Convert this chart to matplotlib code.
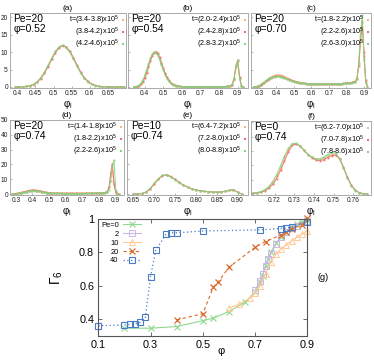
import matplotlib
matplotlib.use('Agg')
import matplotlib.pyplot as plt
from matplotlib.lines import Line2D
import numpy as np

plt.rcParams['font.family'] = ['Liberation Sans', 'DejaVu Sans']
plt.rcParams['mathtext.fontset'] = 'custom'
plt.rcParams['mathtext.rm'] = 'Liberation Sans'
plt.rcParams['mathtext.it'] = 'Liberation Sans:italic'

# ---------------- histogram panels (a)-(f) ----------------
xa = np.round(np.arange(0.395, 0.6951, 0.01), 3)
a1 = [0.0,0.03,0.07,0.16,0.36,0.75,1.45,2.55,4.1,6.0,8.1,10.0,11.4,11.9,11.4,10.1,8.2,6.1,4.1,2.6,1.5,0.8,0.4,0.17,0.07,0.03,0.01,0.0,0.0,0.0,0.0]
a2 = [0.0,0.02,0.06,0.14,0.32,0.68,1.35,2.4,3.9,5.8,7.9,9.8,11.2,11.8,11.5,10.3,8.4,6.3,4.3,2.7,1.6,0.85,0.42,0.19,0.08,0.04,0.02,0.01,0.01,0.0,0.0]
a3 = [0.0,0.03,0.08,0.18,0.4,0.8,1.55,2.7,4.3,6.2,8.3,10.2,11.5,12.0,11.3,9.9,8.0,5.9,3.9,2.45,1.4,0.74,0.36,0.15,0.06,0.02,0.01,0.0,0.0,0.0,0.0]

xb = np.round(np.arange(0.34, 0.9351, 0.01), 3)
flat_b = [0.12,0.1,0.1,0.1,0.1,0.1,0.1,0.1,0.1,0.1,0.1,0.1,0.1,0.1,0.1,0.1,0.1,0.1,0.1,0.1,0.1,0.1,0.1,0.12,0.15,0.2,0.3]
b1 = [0.0,0.05,0.15,0.4,0.9,1.7,2.9,4.4,6.1,7.8,9.1,9.9,10.0,9.4,8.2,6.7,5.1,3.7,2.6,1.7,1.1,0.7,0.45,0.3,0.2,0.15] + flat_b + [0.6,2.0,5.5,7.3,2.5,0.3,0.0]
b2 = [0.0,0.04,0.12,0.33,0.8,1.5,2.6,4.1,5.8,7.5,8.9,9.8,10.1,9.6,8.5,7.0,5.4,3.9,2.8,1.9,1.2,0.75,0.48,0.32,0.22,0.16] + flat_b + [0.7,2.3,6.0,7.6,2.8,0.35,0.0]
b3 = [0.0,0.06,0.2,0.5,1.1,2.0,3.3,4.9,6.6,8.2,9.4,10.0,9.8,9.1,7.8,6.3,4.8,3.4,2.4,1.6,1.0,0.65,0.42,0.28,0.19,0.14] + flat_b + [0.8,2.6,6.2,7.7,2.2,0.25,0.0]

xc = np.round(np.arange(0.27, 0.9251, 0.01), 3)
c1 = [0.0,0.05,0.15,0.35,0.6,0.95,1.35,1.8,2.2,2.6,2.9,3.15,3.3,3.4,3.45,3.4,3.3,3.1,2.85,2.6,2.35,2.1,1.9,1.7,1.55,1.4,1.3,1.2,1.1,1.05,1.0,0.95,0.9,
      0.9,0.88,0.86,0.85,0.85,0.84,0.84,0.84,0.84,0.85,0.85,0.86,0.87,0.88,0.9,0.92,0.94,0.96,1.0,1.05,1.1,
      1.15,1.2,1.3,1.4,1.6,2.6,6.5,14.0,19.0,9.0,1.5,0.0]
c2 = [0.0,0.04,0.12,0.3,0.55,0.85,1.2,1.6,2.0,2.35,2.65,2.85,3.0,3.05,3.05,3.0,2.95,2.8,2.6,2.4,2.2,2.0,1.8,1.62,1.48,1.36,1.26,1.17,1.1,1.03,0.98,0.93,0.9,
      0.88,0.86,0.85,0.84,0.83,0.83,0.83,0.83,0.83,0.84,0.84,0.85,0.86,0.87,0.89,0.91,0.93,0.96,1.0,1.04,1.08,
      1.12,1.18,1.28,1.38,1.55,2.4,6.0,13.0,18.5,10.0,2.0,0.0]
c3 = [0.0,0.06,0.18,0.4,0.7,1.05,1.45,1.85,2.2,2.5,2.7,2.85,2.95,3.0,3.0,2.95,2.85,2.7,2.5,2.3,2.1,1.9,1.72,1.55,1.42,1.3,1.2,1.12,1.05,1.0,0.95,0.91,0.88,
      0.86,0.85,0.84,0.83,0.82,0.82,0.82,0.82,0.82,0.83,0.83,0.84,0.85,0.86,0.88,0.9,0.92,0.95,0.98,1.02,1.06,
      1.1,1.16,1.25,1.35,1.5,2.3,7.0,15.0,20.5,8.0,1.2,0.0]

xd = np.round(np.arange(0.28, 0.9251, 0.01), 3)
d1 = [0.0,0.1,0.3,0.5,0.7,1.0,1.3,1.6,1.9,2.2,2.5,2.7,2.8,2.8,2.7,2.5,2.3,2.0,1.7,1.45,1.2,1.0,0.85,0.75,0.65,0.6,0.55,0.5,
      0.5,0.48,0.47,0.46,0.45,0.45,0.45,0.45,0.45,0.45,0.45,0.45,0.45,0.45,0.45,0.46,0.47,0.48,0.5,0.5,0.52,0.55,0.58,0.6,0.65,
      0.7,0.8,0.95,1.2,1.8,4.5,12.0,19.0,8.0,1.5,0.2,0.0]
d2 = [0.0,0.08,0.25,0.42,0.6,0.85,1.1,1.4,1.7,1.95,2.2,2.4,2.5,2.5,2.4,2.25,2.05,1.8,1.55,1.3,1.1,0.92,0.78,0.68,0.6,0.55,0.5,0.47,
      0.45,0.44,0.43,0.42,0.42,0.42,0.42,0.42,0.42,0.42,0.42,0.42,0.42,0.42,0.42,0.43,0.44,0.45,0.47,0.48,0.5,0.52,0.55,0.58,0.62,
      0.68,0.78,0.92,1.15,1.7,4.8,14.0,20.5,6.5,1.2,0.15,0.0]
d3 = [0.0,0.07,0.2,0.35,0.5,0.72,0.95,1.2,1.45,1.7,1.9,2.05,2.15,2.2,2.15,2.0,1.82,1.6,1.4,1.2,1.02,0.86,0.74,0.64,0.57,0.52,0.48,0.45,
      0.43,0.42,0.41,0.4,0.4,0.4,0.4,0.4,0.4,0.4,0.4,0.4,0.4,0.4,0.4,0.41,0.42,0.43,0.45,0.46,0.48,0.5,0.53,0.56,0.6,
      0.66,0.75,0.9,1.1,1.6,3.0,9.0,19.0,23.0,3.0,0.3,0.0]

xe = np.round(np.arange(0.65, 0.9151, 0.01), 3)
e1 = [0.0,0.1,0.4,1.3,3.6,7.0,10.4,12.8,13.2,12.0,10.0,8.0,6.2,4.8,3.7,2.9,2.4,2.0,1.7,1.5,1.4,1.5,1.9,2.6,3.0,1.2,0.0]
e2 = [0.0,0.08,0.35,1.2,3.3,6.6,10.0,12.4,12.8,11.8,9.9,7.9,6.1,4.7,3.6,2.8,2.3,1.9,1.6,1.45,1.35,1.45,1.85,2.6,3.1,1.3,0.0]
e3 = [0.0,0.12,0.45,1.4,3.8,7.2,10.5,12.6,12.7,11.5,9.6,7.7,6.0,4.6,3.5,2.75,2.25,1.85,1.55,1.4,1.3,1.4,1.8,2.5,3.0,1.1,0.0]

xf = np.round(np.arange(0.709, 0.7671, 0.002), 3)
f1 = [0.6,1.0,1.6,2.8,4.8,8.0,12.5,18.5,25.0,31.0,34.8,35.2,33.5,30.5,27.8,25.8,24.5,24.2,25.0,26.5,27.6,27.5,24.5,18.5,11.5,6.0,2.6,1.0,0.4,0.1]
f2 = [0.5,0.8,1.3,2.3,4.0,6.8,10.8,16.5,23.0,29.5,34.0,35.0,33.6,30.6,27.6,25.3,23.8,23.3,24.0,25.5,26.9,27.2,24.8,19.0,12.0,6.4,2.8,1.1,0.4,0.1]
f3 = [0.7,1.1,1.8,3.1,5.3,8.8,13.5,19.8,26.5,32.0,35.3,35.5,33.6,30.4,27.6,25.8,24.8,24.7,25.8,27.6,28.9,28.6,25.0,18.5,11.2,5.8,2.5,0.9,0.3,0.1]

labels_a = ["t=(3.4-3.8)x10$^{5}$", "(3.8-4.2)x10$^{5}$", "(4.2-4.6)x10$^{5}$"]
labels_b = ["t=(2.0-2.4)x10$^{5}$", "(2.4-2.8)x10$^{5}$", "(2.8-3.2)x10$^{5}$"]
labels_c = ["t=(1.8-2.2)x10$^{5}$", "(2.2-2.6)x10$^{5}$", "(2.6-3.0)x10$^{5}$"]
labels_d = ["t=(1.4-1.8)x10$^{5}$", "(1.8-2.2)x10$^{5}$", "(2.2-2.6)x10$^{5}$"]
labels_e = ["t=(6.4-7.2)x10$^{5}$", "(7.2-8.0)x10$^{5}$", "(8.0-8.8)x10$^{5}$"]
labels_f = ["t=(6.2-7.0)x10$^{5}$", "(7.0-7.8)x10$^{5}$", "(7.8-8.6)x10$^{5}$"]

# ---------------- panel (g) ----------------
pe0_phi = [0.2,0.3,0.4,0.5,0.54,0.6,0.66,0.7,0.72,0.73,0.74,0.75,0.76,0.78,0.8,0.82,0.84,0.86,0.88,0.9]
pe0_g = [0.345,0.345,0.355,0.39,0.405,0.445,0.5,0.56,0.62,0.66,0.72,0.76,0.8,0.855,0.895,0.925,0.95,0.97,0.985,0.995]
pe2_phi = [0.7,0.72,0.73,0.74,0.75,0.76,0.78,0.8,0.82,0.84,0.86,0.9]
pe2_g = [0.575,0.63,0.67,0.72,0.76,0.79,0.85,0.895,0.92,0.945,0.96,0.99]
pe10_phi = [0.6,0.64,0.68,0.7,0.72,0.74,0.76,0.78,0.8,0.82,0.84,0.86,0.88,0.9]
pe10_g = [0.465,0.49,0.525,0.555,0.6,0.67,0.74,0.79,0.82,0.845,0.87,0.89,0.91,0.93]
pe20_phi = [0.4,0.5,0.54,0.56,0.6,0.7,0.74,0.8,0.82,0.84,0.88,0.9]
pe20_g = [0.395,0.432,0.59,0.625,0.71,0.83,0.865,0.905,0.922,0.94,0.965,1.003]
pe40_phi = [0.1,0.2,0.22,0.24,0.26,0.28,0.3,0.32,0.36,0.38,0.4,0.5,0.72,0.8,0.82,0.84,0.9]
pe40_g = [0.36,0.364,0.368,0.372,0.38,0.41,0.655,0.814,0.91,0.917,0.917,0.928,0.935,0.943,0.947,0.95,0.985]

c_or, c_red, c_gr = '#ffb27f', '#f26a6a', '#7fd67f'

W, H = 374.0, 360.0
fig = plt.figure(figsize=(3.74, 3.6), dpi=100)

def add_px(l, t, r, b):
    return fig.add_axes([l / W, 1 - b / H, (r - l) / W, (b - t) / H])

panels = [
    dict(box=(10, 13, 126, 88), x=xa, ys=(a1, a2, a3), labs=labels_a, title='(a)', txt='Pe=20\nφ=0.52',
         xlim=(0.38, 0.70), xt=[0.4, 0.45, 0.5, 0.55, 0.6, 0.65], xtl=['0.4', '0.45', '0.5', '0.55', '0.6', '0.65'],
         ylim=(-0.3, 21.2), yt=[0, 5, 10, 15, 20], showy=True),
    dict(box=(128, 13, 248, 88), x=xb, ys=(b1, b2, b3), labs=labels_b, title='(b)', txt='Pe=20\nφ=0.54',
         xlim=(0.31, 0.955), xt=[0.4, 0.5, 0.6, 0.7, 0.8, 0.9], xtl=None,
         ylim=(-0.3, 21.2), yt=[0, 5, 10, 15, 20], showy=False),
    dict(box=(251, 13, 371, 88), x=xc, ys=(c1, c2, c3), labs=labels_c, title='(c)', txt='Pe=20\nφ=0.70',
         xlim=(0.255, 0.94), xt=[0.3, 0.4, 0.5, 0.6, 0.7, 0.8, 0.9], xtl=None,
         ylim=(-0.3, 21.2), yt=[0, 5, 10, 15, 20], showy=False),
    dict(box=(10, 120, 124, 195), x=xd, ys=(d1, d2, d3), labs=labels_d, title='(d)', txt='Pe=20\nφ=0.74',
         xlim=(0.265, 0.95), xt=[0.3, 0.4, 0.5, 0.6, 0.7, 0.8, 0.9], xtl=None,
         ylim=(-0.6, 50), yt=[0, 10, 20, 30, 40, 50], showy=True),
    dict(box=(127, 120, 248, 195), x=xe, ys=(e1, e2, e3), labs=labels_e, title='(e)', txt='Pe=10\nφ=0.74',
         xlim=(0.635, 0.925), xt=[0.65, 0.7, 0.75, 0.8, 0.85, 0.9], xtl=None,
         ylim=(-0.6, 50), yt=[0, 10, 20, 30, 40, 50], showy=False),
    dict(box=(251, 121, 371, 195), x=xf, ys=(f1, f2, f3), labs=labels_f, title='(f)', txt='Pe=0\nφ=0.74',
         xlim=(0.708, 0.769), xt=[0.72, 0.73, 0.74, 0.75, 0.76], xtl=None,
         ylim=(-0.6, 51), yt=[0, 10, 20, 30, 40, 50], showy=False),
]

for p in panels:
    ax = add_px(*p['box'])
    for y, c in zip(p['ys'], (c_or, c_red, c_gr)):
        ax.plot(p['x'], y, '-', color=c, lw=0.7, marker='s', ms=1.3, mew=0, alpha=0.9)
    ax.set_xlim(*p['xlim'])
    ax.set_ylim(*p['ylim'])
    ax.set_xticks(p['xt'])
    if p['xtl']:
        ax.set_xticklabels(p['xtl'])
    ax.set_yticks(p['yt'])
    if not p['showy']:
        ax.tick_params(axis='y', labelleft=False)
    ax.tick_params(labelsize=4.8, length=1.5, width=0.5, pad=1.5, color='#999999',
                   labelcolor='#222222', direction='in')
    for s in ax.spines.values():
        s.set_color('#aaaaaa')
        s.set_linewidth(0.7)
    ax.set_xlabel('φ$_{\\mathregular{l}}$', fontsize=7, labelpad=0.5)
    ax.set_title(p['title'], fontsize=6, pad=2.5)
    ax.text(0.03, 0.98, p['txt'], transform=ax.transAxes, va='top', ha='left',
            fontsize=7.4, linespacing=0.92)
    hs = [Line2D([], [], ls='none', marker='s', ms=1.8, mew=0, color=c) for c in (c_or, c_red, c_gr)]
    ax.legend(hs, p['labs'], loc='upper right', markerfirst=False, frameon=False,
              fontsize=5.2, handlelength=0.5, handletextpad=0.35, labelspacing=-0.2,
              borderaxespad=0.1, borderpad=0.05)

# ---------------- main panel (g) ----------------
ax = add_px(98.3, 219, 307.3, 335.7)
ax.plot(pe0_phi, pe0_g, '-', color='#8fd88f', marker='x', ms=4.5, mew=0.8, lw=0.8, label='Pe=0', clip_on=False)
ax.plot(pe2_phi, pe2_g, '-', color='#c9b8e3', marker='s', mfc='none', ms=4.6, mew=0.7, lw=0.8, label='2', clip_on=False)
ax.plot(pe10_phi, pe10_g, '-', color='#ffc995', marker='^', mfc='none', ms=4.6, mew=0.7, lw=0.8, label='10', clip_on=False)
ax.plot(pe20_phi, pe20_g, color='#d86a2c', ls=(0, (3, 2.5)), marker='x', ms=4.8, mew=0.9, lw=0.8, label='20', clip_on=False)
ax.plot(pe40_phi, pe40_g, color='#4a7cc6', ls=(0, (1, 2)), marker='s', mfc='none', ms=4.8, mew=0.8, lw=0.9, label='40', clip_on=False)
ax.set_xlim(0.1, 0.9)
ax.set_ylim(0.3, 1.0)
ax.set_xticks([0.1, 0.3, 0.5, 0.7, 0.9])
ax.set_xticklabels(['0.1', '0.3', '0.5', '0.7', '0.9'])
ax.set_yticks([0.4, 0.6, 0.8, 1.0])
ax.set_yticklabels(['0.4', '0.6', '0.8', '1'])
ax.tick_params(direction='in', top=True, right=True, labelsize=7.8, length=3, width=0.6, pad=3,
               color='#555555')
for s in ax.spines.values():
    s.set_color('#555555')
    s.set_linewidth(0.8)
ax.set_ylabel('Γ$_{6}$', fontsize=10)
ax.yaxis.set_label_coords(-0.16, 0.5)
ax.set_xlabel('φ', fontsize=8)
ax.xaxis.set_label_coords(0.59, -0.09)
ax.legend(loc='upper left', markerfirst=False, frameon=False, fontsize=5.4, handlelength=2.4,
          handletextpad=0.6, labelspacing=0.22, borderaxespad=0.25, borderpad=0.1)
fig.text(323 / W, 1 - 278 / H, '(g)', fontsize=6.5, ha='center', va='center')

fig.savefig('out.png', dpi=100)
